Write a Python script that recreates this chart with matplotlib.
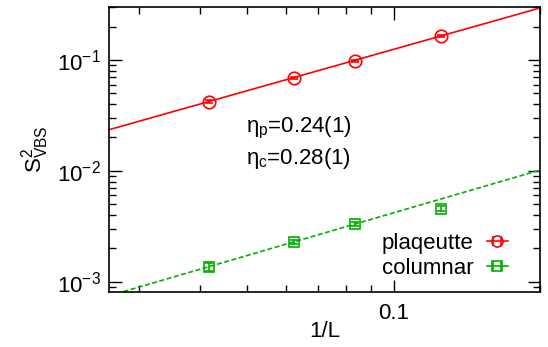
import numpy as np
import matplotlib.pyplot as plt
from matplotlib.lines import Line2D
from matplotlib.legend_handler import HandlerLine2D, HandlerTuple
from matplotlib.ticker import LogLocator, FixedLocator, FixedFormatter, NullFormatter

plt.rcParams['font.family'] = ['Liberation Sans', 'DejaVu Sans']
plt.rcParams['mathtext.fontset'] = 'custom'
plt.rcParams['mathtext.rm'] = 'Liberation Sans'
plt.rcParams['mathtext.it'] = 'Liberation Sans'

# Dados
L = np.array([24, 16, 12, 8])
inv_L = 1.0 / L
plaquette = [0.0420, 0.0692, 0.0979, 0.166]
plaquette_err = [0.0012, 0.0015, 0.002, 0.003]
columnar = [1.36e-3, 2.29e-3, 3.30e-3, 4.57e-3]
columnar_err = [0.1e-3, 0.1e-3, 0.15e-3, 0.25e-3]

# ajustes S^2 = A * (1/L)^(1+eta)
eta_p, A_p = 0.24, 2.17
eta_c, A_c = 0.28, 0.0797

red = '#ff0000'
green = '#00b000'

fig = plt.figure(figsize=(5.48, 3.47), dpi=100)
ax = fig.add_axes([109/548, 1 - 292/347, (540-109)/548, (292-7)/347])
ax.set_xscale('log')
ax.set_yscale('log')
ax.set_xlim(0.026, 0.2)
ax.set_ylim(8.07e-4, 0.301)

xfit = np.array(ax.get_xlim())
ax.plot(xfit, A_p * xfit ** (1 + eta_p), color=red, lw=1.2)
ax.plot(xfit, A_c * xfit ** (1 + eta_c), color=green, lw=1.2, dashes=(3, 1.5))

ax.errorbar(inv_L, plaquette, yerr=plaquette_err, fmt='o', color=red, mfc='none',
            ms=9, mew=1.2, capsize=3, elinewidth=1.2)
ax.errorbar(inv_L, columnar, yerr=columnar_err, fmt='s', color=green, mfc='none',
            ms=7, mew=1.2, capsize=3, elinewidth=1.2)

ax.xaxis.set_major_locator(FixedLocator([0.1]))
ax.xaxis.set_major_formatter(FixedFormatter(['0.1']))
ax.xaxis.set_minor_locator(LogLocator(base=10, subs=np.arange(2, 10)))
ax.xaxis.set_minor_formatter(NullFormatter())
ax.yaxis.set_major_locator(LogLocator(base=10, numticks=10))
ax.yaxis.set_minor_locator(LogLocator(base=10, subs=np.arange(2, 10), numticks=10))
ax.yaxis.set_minor_formatter(NullFormatter())
ax.tick_params(which='both', direction='in', top=True, right=True, labelsize=16)
ax.tick_params(which='major', length=9, width=1)
ax.tick_params(which='minor', length=5, width=1)
ax.tick_params(axis='x', pad=8)
ax.tick_params(axis='y', pad=6)
for s in ax.spines.values():
    s.set_linewidth(1.2)

ax.set_xlabel('1/L', fontsize=16, labelpad=-2)
ax.set_ylabel(r'S$^2_{\mathrm{VBS}}$', fontsize=16, labelpad=4)

ax.text(0.44, 0.575, r'$\eta_\mathrm{p}$=0.24(1)', transform=ax.transAxes, fontsize=16, ha='center', va='center')
ax.text(0.44, 0.47, r'$\eta_\mathrm{c}$=0.28(1)', transform=ax.transAxes, fontsize=16, ha='center', va='center')

# legenda no estilo gnuplot
hp_line = Line2D([], [], color=red, lw=1.2)
hp_cap = Line2D([], [], ls='none', marker='|', ms=7, mew=1.2, color=red)
hp_mk = Line2D([], [], ls='none', marker='o', ms=8, mew=1.2, mfc='none', color=red)
hc_line = Line2D([], [], color=green, lw=1.2)
hc_cap = Line2D([], [], ls='none', marker='|', ms=7, mew=1.2, color=green)
hc_mk = Line2D([], [], ls='none', marker='s', ms=7, mew=1.2, mfc='none', color=green)
ax.legend([(hp_line, hp_cap, hp_mk), (hc_line, hc_cap, hc_mk)], ['plaqeutte', 'columnar'],
          handler_map={tuple: HandlerTuple(ndivide=1, pad=0),
                       hp_cap: HandlerLine2D(numpoints=2), hc_cap: HandlerLine2D(numpoints=2)},
          loc='lower right', bbox_to_anchor=(0.925, 0.045), markerfirst=False, frameon=False,
          borderaxespad=0, borderpad=0,
          fontsize=16, handlelength=0.95, handletextpad=0.6, labelspacing=0.2)

fig.savefig('out.png', dpi=100)
